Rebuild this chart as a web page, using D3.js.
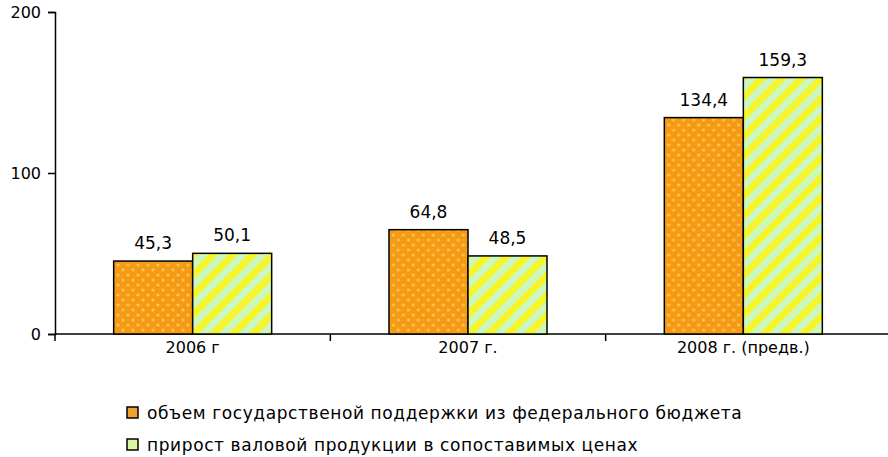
<!DOCTYPE html>
<html><head><meta charset="utf-8">
<script src="https://cdn.jsdelivr.net/npm/d3@7"></script>
<style>body{margin:0;background:#fff}text{font-family:"DejaVu Sans",Arial,sans-serif}</style>
</head><body><div id="chart"></div>
<script>
var categories = ["2006 г", "2007 г.", "2008 г. (предв.)"];
var support = [45.3, 64.8, 134.4];
var growth = [50.1, 48.5, 159.3];
var seriesNames = ["объем государственой поддержки из федерального бюджета",
                   "прирост валовой продукции в сопоставимых ценах"];
var yTicks = [0, 100, 200];

var margin = {top: 12, right: 0, bottom: 123, left: 55},
    width = 888 - margin.left - margin.right,
    height = 457 - margin.top - margin.bottom;

var root = d3.select("#chart").append("svg")
    .attr("width", 888).attr("height", 457);

// patterns
var defs = root.append("defs");
var pd = defs.append("pattern").attr("id", "dots").attr("patternUnits", "userSpaceOnUse")
  .attr("width", 10).attr("height", 10);
pd.append("rect").attr("width", 10).attr("height", 10).attr("fill", "#f59a12");
pd.append("circle").attr("cx", 3).attr("cy", 3).attr("r", 1.6).attr("fill", "#fbc35a");
pd.append("circle").attr("cx", 8).attr("cy", 8).attr("r", 1.6).attr("fill", "#fbc35a");
var ps = defs.append("pattern").attr("id", "stripes").attr("patternUnits", "userSpaceOnUse")
  .attr("width", 14).attr("height", 14).attr("patternTransform", "rotate(45)");
ps.append("rect").attr("width", 14).attr("height", 14).attr("fill", "#ccf7c0");
ps.append("rect").attr("width", 7).attr("height", 14).attr("fill", "#f5f52a");

var svg = root.append("g").attr("transform", "translate(" + margin.left + "," + margin.top + ")");

var x = d3.scaleBand().domain(categories).range([0, 826]);
var y = d3.scaleLinear().domain([0, 200]).range([height, 0]);
var x1 = d3.scaleBand().domain([0, 1]).range([x.bandwidth()/2 - 79, x.bandwidth()/2 + 79]);

var ya = svg.append("g").call(d3.axisLeft(y).tickValues(yTicks).tickSize(7).tickFormat(d3.format("d")));
ya.attr("font-size", null).attr("font-family", null);
ya.selectAll("text").style("font-size", "16px").attr("fill", "#000").attr("dx", -4);
ya.selectAll("line,path").attr("stroke", "#000").attr("stroke-width", 1.5);

var xa = svg.append("g").attr("transform", "translate(0," + height + ")")
  .call(d3.axisBottom(x).tickSize(0).tickSizeOuter(0));
xa.attr("font-size", null).attr("font-family", null);
xa.select("path").attr("d", "M0,0H" + width);
xa.selectAll("text").style("font-size", "16px").attr("fill", "#000").attr("dy", 16);
xa.select("path").attr("stroke", "#000").attr("stroke-width", 1.5);
xa.selectAll(".sep").data(d3.range(categories.length)).enter().append("line")
  .attr("x1", function(i){ return i * x.bandwidth(); }).attr("x2", function(i){ return i * x.bandwidth(); })
  .attr("y1", 0).attr("y2", 7).attr("stroke", "#000").attr("stroke-width", 1.5);

var data = categories.map(function(c, i){ return {cat: c, vals: [support[i], growth[i]]}; });
var fills = ["url(#dots)", "url(#stripes)"];
var grp = svg.selectAll(".grp").data(data).enter().append("g")
  .attr("transform", function(d){ return "translate(" + x(d.cat) + ",0)"; });
grp.selectAll("rect").data(function(d){ return d.vals; }).enter().append("rect")
  .attr("x", function(d, j){ return x1(j); }).attr("width", x1.bandwidth())
  .attr("y", function(d){ return y(d); }).attr("height", function(d){ return height - y(d); })
  .attr("fill", function(d, j){ return fills[j]; }).attr("stroke", "#000").attr("stroke-width", 1.5);
grp.selectAll(".lbl").data(function(d){ return d.vals; }).enter().append("text")
  .attr("x", function(d, j){ return x1(j) + x1.bandwidth()/2; })
  .attr("y", function(d){ return y(d) - 12; })
  .attr("text-anchor", "middle").attr("font-size", 17)
  .text(function(d){ return d3.format(".1f")(d).replace(".", ","); });

// legend
var lg = root.append("g").attr("transform", "translate(127,413)");
lg.selectAll("rect").data(seriesNames).enter().append("rect")
  .attr("x", 0).attr("y", function(d, i){ return i * 32 - 6; }).attr("width", 11).attr("height", 11)
  .attr("fill", function(d, i){ return i ? "#d8f5a0" : "#f0a030"; }).attr("stroke", "#000").attr("stroke-width", 1.5);
lg.selectAll("text").data(seriesNames).enter().append("text")
  .attr("x", 20).attr("y", function(d, i){ return i * 32 + 6; })
  .attr("font-size", 17).attr("letter-spacing", 0.6).text(function(d){ return d; });
</script></body></html>
